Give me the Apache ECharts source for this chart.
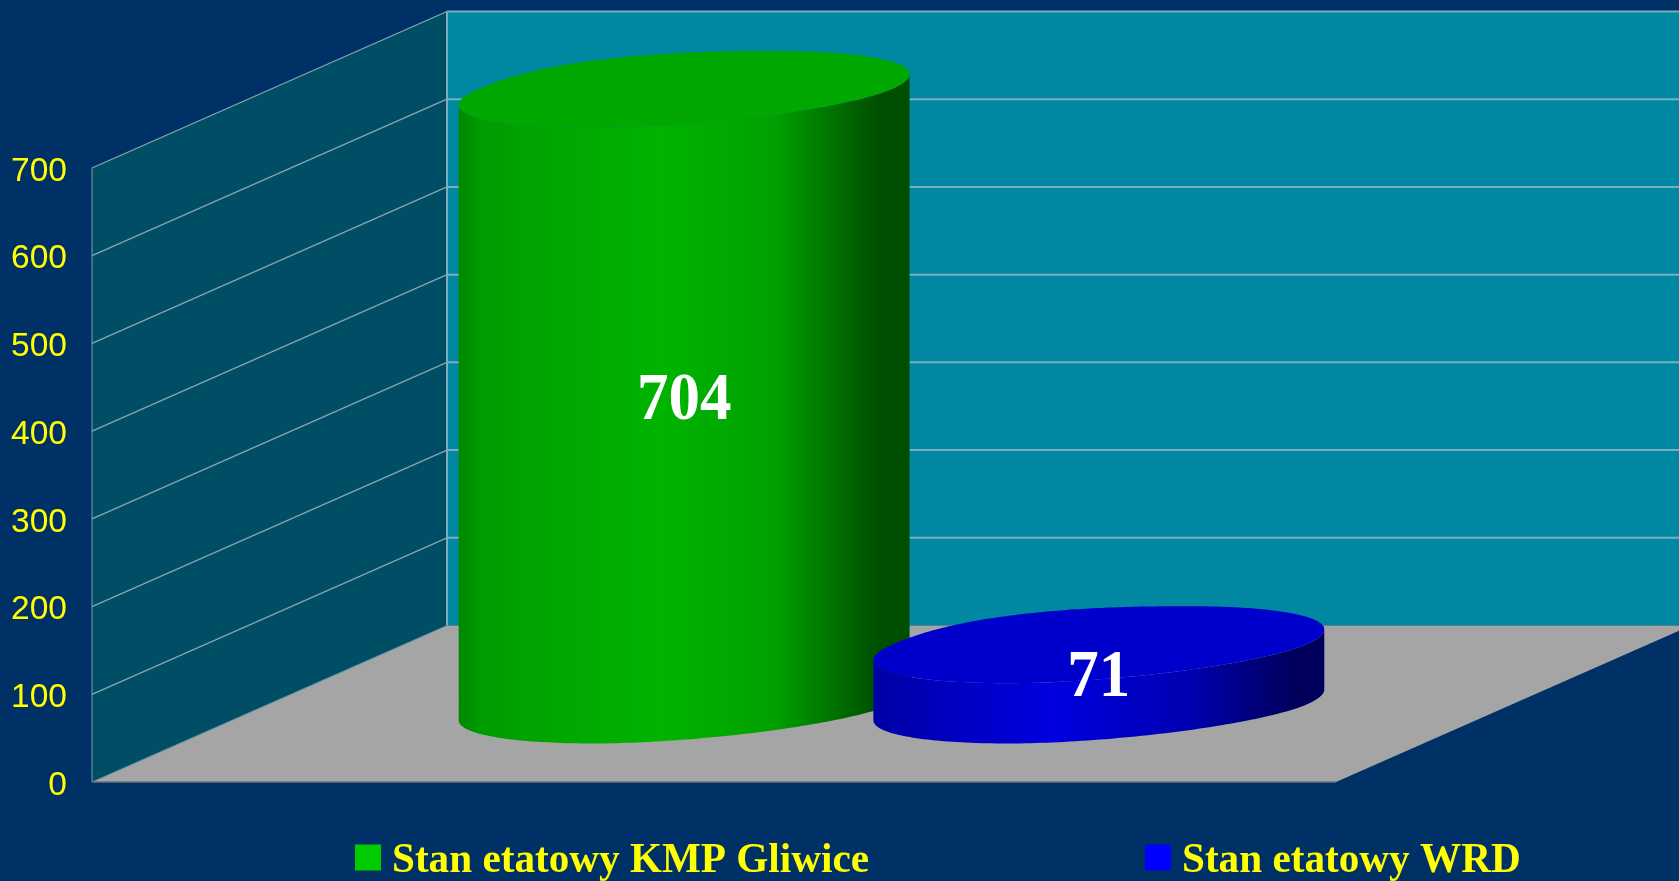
<!DOCTYPE html>
<html>
<head>
<meta charset="utf-8">
<style>html,body{margin:0;padding:0;background:#003366;overflow:hidden}#c{width:1679px;height:881px}</style>
<script src="https://cdn.jsdelivr.net/npm/echarts@6/dist/echarts.min.js"></script>
</head>
<body>
<div id="c"></div>
<script>
var categories = ['Stan etatowy'];
var seriesNames = ['Stan etatowy KMP Gliwice', 'Stan etatowy WRD'];
var kmpValues = [704];
var wrdValues = [71];
var yTicks = [0, 100, 200, 300, 400, 500, 600, 700];

var DEPTH = [355, -156.5];
var BASE_SHIFT = [177.5, -77];
var TOP_SHIFT = -75;
var ELLIPSE_V = [90, -38.5];

var chart = echarts.init(document.getElementById('c'), null, {renderer: 'canvas'});

function renderBox(params, api) {
  var cs = params.coordSys;
  var left = cs.x, right = cs.x + cs.width, bottom = cs.y + cs.height;
  var topVal = yTicks[yTicks.length - 1];
  var topY = api.coord([0, topVal])[1];
  var farRight = right + DEPTH[0];
  var bx = left + DEPTH[0];
  var children = [];
  children.push({type: 'polygon', shape: {points: [[bx, topY + DEPTH[1]], [farRight, topY + DEPTH[1]], [farRight, bottom + DEPTH[1]], [bx, bottom + DEPTH[1]]]}, style: {fill: '#0088A3'}});
  children.push({type: 'polygon', shape: {points: [[left, topY], [bx, topY + DEPTH[1]], [bx, bottom + DEPTH[1]], [left, bottom]]}, style: {fill: '#004D66'}});
  children.push({type: 'polygon', shape: {points: [[left, bottom], [bx, bottom + DEPTH[1]], [farRight, bottom + DEPTH[1]], [right, bottom]]}, style: {fill: '#A5A5A5'}});
  yTicks.forEach(function (t) {
    var y = api.coord([0, t])[1];
    if (t > 0) {
      children.push({type: 'line', shape: {x1: bx, y1: y + DEPTH[1], x2: farRight, y2: y + DEPTH[1]}, style: {stroke: '#78AEBD', lineWidth: 2}});
      children.push({type: 'line', shape: {x1: left, y1: y, x2: bx, y2: y + DEPTH[1]}, style: {stroke: '#8AA5AD', lineWidth: 1.3}});
    }
  });
  children.push({type: 'line', shape: {x1: left, y1: bottom, x2: bx, y2: bottom + DEPTH[1]}, style: {stroke: '#5F94A4', lineWidth: 1}});
  children.push({type: 'line', shape: {x1: left, y1: topY, x2: left, y2: bottom}, style: {stroke: '#7F9DAA', lineWidth: 1}});
  children.push({type: 'line', shape: {x1: bx, y1: topY + DEPTH[1], x2: bx, y2: bottom + DEPTH[1]}, style: {stroke: '#78AEBD', lineWidth: 2}});
  children.push({type: 'line', shape: {x1: left, y1: bottom, x2: right, y2: bottom}, style: {stroke: '#67717F', lineWidth: 1.5}});
  return {type: 'group', children: children};
}

function ellipsePoints(cx, cy, ux, from, to, n) {
  var pts = [];
  for (var i = 0; i <= n; i++) {
    var t = from + (to - from) * i / n;
    var c = Math.cos(t), s = Math.sin(t);
    var p = 2;
    if (c < 0 && s > 0) p = 2.5;
    if (c > 0 && s < 0) p = 1.85;
    var a = (c < 0 ? -1 : 1) * Math.pow(Math.abs(c), 2 / p);
    var b = (s < 0 ? -1 : 1) * Math.pow(Math.abs(s), 2 / p);
    pts.push([cx + ux * a + ELLIPSE_V[0] * b, cy + ELLIPSE_V[1] * b]);
  }
  return pts;
}

function makeCylinder(slot, palette) {
  return function (params, api) {
    var value = api.value(1);
    var band = api.size([1, 0])[0];
    var center = api.coord([0, 0]);
    var top = api.coord([0, value]);
    var ux = band / 6 * 0.997;
    var cx = center[0] + slot * band / 6 + BASE_SHIFT[0];
    var baseY = center[1] + BASE_SHIFT[1];
    var topY = top[1] + TOP_SHIFT;
    var tr = Math.atan2(ELLIPSE_V[0], ux);
    var tl = tr + Math.PI;
    var basePts = ellipsePoints(cx, baseY, ux, tl, tr + 2 * Math.PI, 120);
    var topPts = ellipsePoints(cx, topY, ux, tr + 2 * Math.PI, tl, 120);
    var side = basePts.concat(topPts);
    var grad = new echarts.graphic.LinearGradient(0, 0, 1, 0, palette.side);
    return {
      type: 'group',
      children: [
        {type: 'polygon', shape: {points: side}, style: {fill: grad}},
        {type: 'polygon', shape: {points: ellipsePoints(cx, topY, ux, 0, 2 * Math.PI, 360)}, style: {fill: palette.top}},
        {type: 'text', x: cx, y: (topY + baseY) / 2 + 4, scaleY: 1.08, style: {
          text: String(value), fill: '#FFFFFF', align: 'center', verticalAlign: 'middle',
          font: 'bold 63px "Liberation Serif", "Times New Roman", serif'
        }}
      ]
    };
  };
}

var greenPalette = {top: '#00A800', side: [
  {offset: 0, color: '#008800'}, {offset: 0.05, color: '#009C00'}, {offset: 0.45, color: '#00B400'},
  {offset: 0.7, color: '#00A000'}, {offset: 0.93, color: '#004F00'}, {offset: 1, color: '#004F00'}
]};
var bluePalette = {top: '#0000CC', side: [
  {offset: 0, color: '#0000A6'}, {offset: 0.4, color: '#0000E0'}, {offset: 0.7, color: '#0000B0'},
  {offset: 0.93, color: '#00005C'}, {offset: 1, color: '#00005C'}
]};

chart.setOption({
  animation: false,
  backgroundColor: '#003166',
  grid: {left: 92, right: 343, top: 168, bottom: 99},
  xAxis: {type: 'category', data: categories, show: false},
  yAxis: {
    type: 'value', min: 0, max: 700, interval: 100,
    axisLine: {show: false}, axisTick: {show: false}, splitLine: {show: false},
    axisLabel: {
      margin: 25,
      formatter: '{a|{value}}',
      rich: {a: {color: '#FFFF00', fontSize: 33.5, padding: [7, 0, 0, 0], fontFamily: '"Liberation Sans", Arial, sans-serif'}}
    }
  },
  legend: {
    data: seriesNames, left: 355, top: 841, itemWidth: 26, itemHeight: 26, itemGap: 276, icon: 'rect',
    selectedMode: false, padding: 0,
    formatter: function (name) { return '{a|' + name + '}'; },
    textStyle: {
      color: '#FFFF00',
      rich: {a: {color: '#FFFF00', fontSize: 41.2, fontWeight: 'bold', fontFamily: '"Liberation Serif", "Times New Roman", serif', padding: [8, 0, 0, 6]}}
    }
  },
  series: [
    {type: 'custom', name: 'box', silent: true, clip: false, z: 1, data: [[0, 0]], renderItem: renderBox},
    {type: 'custom', name: seriesNames[0], clip: false, z: 2, itemStyle: {color: '#00CC00'},
     data: kmpValues.map(function (v, i) { return [i, v]; }), renderItem: makeCylinder(-1, greenPalette)},
    {type: 'custom', name: seriesNames[1], clip: false, z: 3, itemStyle: {color: '#0000FF'},
     data: wrdValues.map(function (v, i) { return [i, v]; }), renderItem: makeCylinder(1, bluePalette)}
  ]
});
</script>
</body>
</html>
